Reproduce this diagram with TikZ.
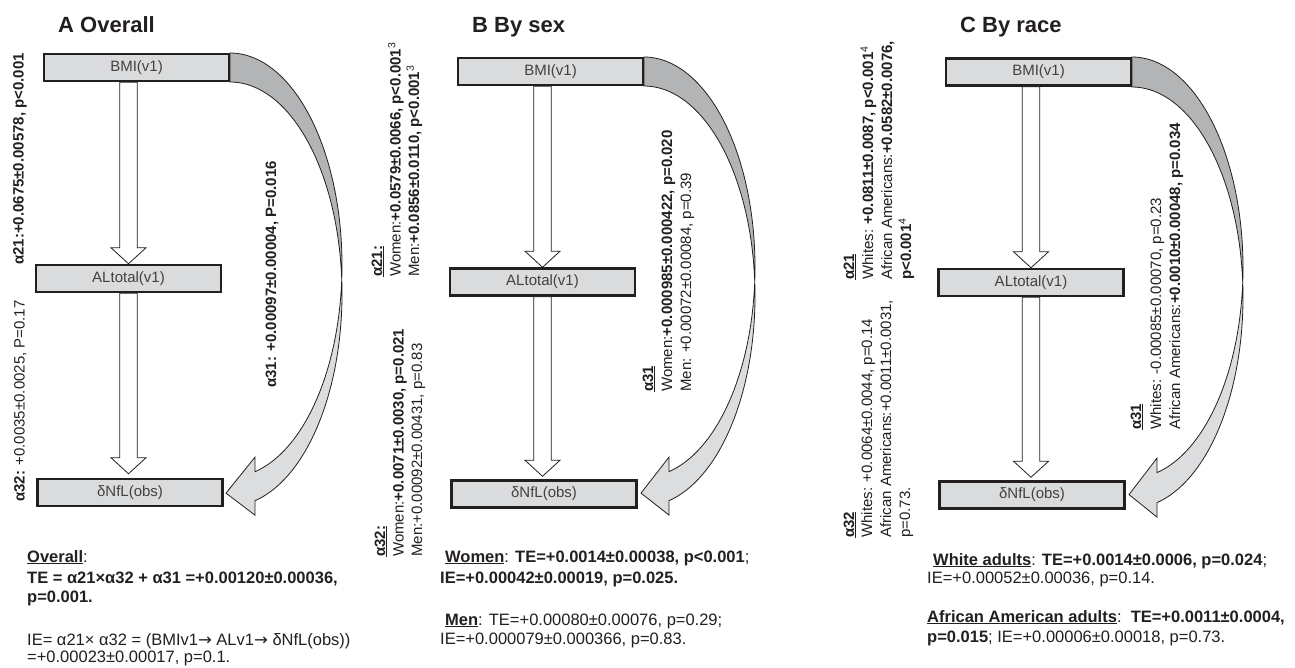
\documentclass[tikz,border=0pt]{standalone}
\usepackage{fontspec}
\setmainfont{Liberation Sans}
\newfontfamily\symfont{DejaVu Sans}
\usetikzlibrary{calc}
\definecolor{boxgray}{HTML}{DADBDC}
\definecolor{darkband}{HTML}{B3B4B6}
\definecolor{lightband}{HTML}{DCDDDE}
\definecolor{ink}{HTML}{231F20}
\newcommand{\rarr}{{\symfont →}}
\tikzset{
 vbox/.style={draw=ink, line width=2.5pt, fill=boxgray, minimum width=185pt, minimum height=27pt, inner sep=0pt, font=\fontsize{15}{17}\selectfont, text=ink!85},
 hollow/.style={draw=ink, line width=0.8pt, fill=white},
 darkpart/.style={draw=ink, line width=0.8pt, fill=darkband},
 lightpart/.style={draw=ink, line width=0.8pt, fill=lightband},
 lbl/.style={rotate=90, anchor=base west, inner sep=0pt, font=\fontsize{15}{17}\selectfont, text=ink},
 btxt/.style={anchor=base west, inner sep=0pt, font=\fontsize{16.5}{19}\selectfont, text=ink},
 ttl/.style={anchor=base west, inner sep=0pt, font=\fontsize{22}{26}\selectfont\bfseries, text=ink},
}
% hollow block arrow from #1 (start) straight down to #2 (tip), gap #3
\newcommand{\blockarrow}[3]{%
 \draw[hollow] let \p1=(#1), \p2=(#2) in
  (\x1-8.75pt,\y1) -- (\x1-8.75pt,\y2+#3+16pt) -- (\x1-17.5pt,\y2+#3+16pt) -- (\x1,\y2+#3)
  -- (\x1+17.5pt,\y2+#3+16pt) -- (\x1+8.75pt,\y2+#3+16pt) -- (\x1+8.75pt,\y1) -- cycle;}
% curved band arrow: #1 cx, #2 ytop, #3 width, #4 rx, #5 ry, #6 head back dx, #7 tip dx
\newcommand{\curvearr}[7]{%
 \pgfmathsetmacro{\cvTc}{asin(#3/(2*#5))}%
 \pgfmathsetmacro{\cvTe}{acos(#6/#4)}%
 \pgfmathsetmacro{\cvUy}{#2+#5+#5*sin(\cvTe)}%
 \draw[darkpart] plot[domain=-90:\cvTc, samples=60] ({#1+#4*cos(\x)},{#2+#5+#5*sin(\x)})
   -- plot[domain=-\cvTc:-90, samples=60] ({#1+#4*cos(\x)},{#2+#3+#5+#5*sin(\x)}) -- cycle;
 \draw[lightpart] plot[domain=-\cvTc:\cvTe, samples=80] ({#1+#4*cos(\x)},{#2+#3+#5+#5*sin(\x)})
   -- ({#1+#6},{\cvUy+#3+14.5}) -- ({#1+#6-#7},{\cvUy+#3/2+7}) -- ({#1+#6},{\cvUy-14.5})
   -- plot[domain=\cvTe:\cvTc, samples=80] ({#1+#4*cos(\x)},{#2+#5+#5*sin(\x)}) -- cycle;}
\begin{document}
\begin{tikzpicture}[x=1pt,y=-1pt]
\useasboundingbox[fill=white] (0,0) rectangle (1295,667);

% ---------------- Panel A ----------------
\node[ttl] (ttlA) at (58,32) {A Overall};
\node[vbox] (bmiA) at (136.5,67.5) {BMI(v1)};
\node[vbox] (alA) at (128.5,278.5) {ALtotal(v1)};
\node[vbox] (nflA) at (130,492.5) {δNfL(obs)};
\blockarrow{bmiA.south -| alA.north}{alA.north}{0pt}
\blockarrow{alA.south}{nflA.north -| alA.south}{4pt}
\curvearr{230}{53}{29}{112}{212}{25}{29}
\node[lbl] (a21A) at (23.5,265) {\textbf{α21:+0.0675±0.00578, p<0.001}};
\node[lbl] (a32A) at (24.5,502) {\textbf{α32:} +0.0035±0.0025, P=0.17};
\node[lbl] (a31A) at (276,388) {\textbf{α31: +0.00097±0.00004, P=0.016}};
\node[btxt] (sA1) at (27,562) {\underline{\textbf{Overall}}:};
\node[btxt] (sA2) at (27,583) {\textbf{TE = α21×α32 + α31 =+0.00120±0.00036,}};
\node[btxt] (sA3) at (27,602) {\textbf{p=0.001.}};
\node[btxt] (sA4) at (27,645) {IE= α21× α32 = (BMIv1\rarr{} ALv1\rarr{} δNfL(obs))};
\node[btxt] (sA5) at (27,662) {=+0.00023±0.00017, p=0.1.};

% ---------------- Panel B ----------------
\node[ttl] (ttlB) at (472,32) {B By sex};
\node[vbox] (bmiB) at (550.5,71.5) {BMI(v1)};
\node[vbox] (alB) at (542.5,282) {ALtotal(v1)};
\node[vbox] (nflB) at (544,494) {δNfL(obs)};
\blockarrow{bmiB.south -| alB.north}{alB.north}{0pt}
\blockarrow{alB.south}{nflB.north -| alB.south}{3pt}
\curvearr{644}{57}{29}{111}{210}{25}{28}
\node[lbl] (a21Bh) at (382,277) {\underline{\textbf{α21:}}};
\node[lbl] (a21Bw) at (400.5,277) {Women:\textbf{+0.0579±0.0066, p<0.001}\textsuperscript{3}};
\node[lbl] (a21Bm) at (419,277) {Men:\textbf{+0.0856±0.0110, p<0.001}\textsuperscript{3}};
\node[lbl] (a32Bh) at (385,557) {\underline{\textbf{α32:}}};
\node[lbl] (a32Bw) at (403.5,557) {Women:\textbf{+0.0071±0.0030, p=0.021}};
\node[lbl] (a32Bm) at (422,557) {Men:+0.00092±0.00431, p=0.83};
\node[lbl] (a31Bh) at (653,392) {\underline{\textbf{α31}}};
\node[lbl] (a31Bw) at (672,392) {Women:\textbf{+0.000985±0.000422, p=0.020}};
\node[lbl] (a31Bm) at (691,392) {Men: +0.00072±0.00084, p=0.39};
\node[btxt] (sB1) at (445,562) {\underline{\textbf{Women}}: \textbf{TE=+0.0014±0.00038, p<0.001};};
\node[btxt] (sB2) at (440,583) {\textbf{IE=+0.00042±0.00019, p=0.025.}};
\node[btxt] (sB3) at (445,625) {\underline{\textbf{Men}}: TE=+0.00080±0.00076, p=0.29;};
\node[btxt] (sB4) at (440,644) {IE=+0.000079±0.000366, p=0.83.};

% ---------------- Panel C ----------------
\node[ttl] (ttlC) at (960,32) {C By race};
\node[vbox] (bmiC) at (1038.5,72) {BMI(v1)};
\node[vbox] (alC) at (1031,282.5) {ALtotal(v1)};
\node[vbox] (nflC) at (1032,495) {δNfL(obs)};
\blockarrow{bmiC.south -| alC.north}{alC.north}{0pt}
\blockarrow{alC.south}{nflC.north -| alC.south}{3pt}
\curvearr{1132}{57}{30}{111}{210.5}{25}{28}
\node[lbl] (a21Ch) at (854,280) {\underline{\textbf{α21}}};
\node[lbl] (a21Cw) at (873,280) {Whites: \textbf{+0.0811±0.0087, p<0.001}\textsuperscript{4}};
\node[lbl] (a21Ca) at (892,280) {African Americans:\textbf{+0.0582±0.0076,}};
\node[lbl] (a21Cp) at (911,280) {\textbf{p<0.001}\textsuperscript{4}};
\node[lbl] (a32Ch) at (854,538) {\underline{\textbf{α32}}};
\node[lbl] (a32Cw) at (872,538) {Whites: +0.0064±0.0044, p=0.14};
\node[lbl] (a32Ca) at (891,538) {African Americans:+0.0011±0.0031,};
\node[lbl] (a32Cp) at (910,538) {p=0.73.};
\node[lbl] (a31Ch) at (1141,430) {\underline{\textbf{α31}}};
\node[lbl] (a31Cw) at (1161,430) {Whites: -0.00085±0.00070, p=0.23};
\node[lbl] (a31Ca) at (1180,430) {African Americans:\textbf{+0.0010±0.00048, p=0.034}};
\node[btxt] (sC1) at (933,565) {\underline{\textbf{White adults}}: \textbf{TE=+0.0014±0.0006, p=0.024};};
\node[btxt] (sC2) at (927,583) {IE=+0.00052±0.00036, p=0.14.};
\node[btxt] (sC3) at (927,622) {\underline{\textbf{African American adults}}:\ \ \textbf{TE=+0.0011±0.0004,}};
\node[btxt] (sC4) at (927,642) {\textbf{p=0.015}; IE=+0.00006±0.00018, p=0.73.};
\end{tikzpicture}
\end{document}
